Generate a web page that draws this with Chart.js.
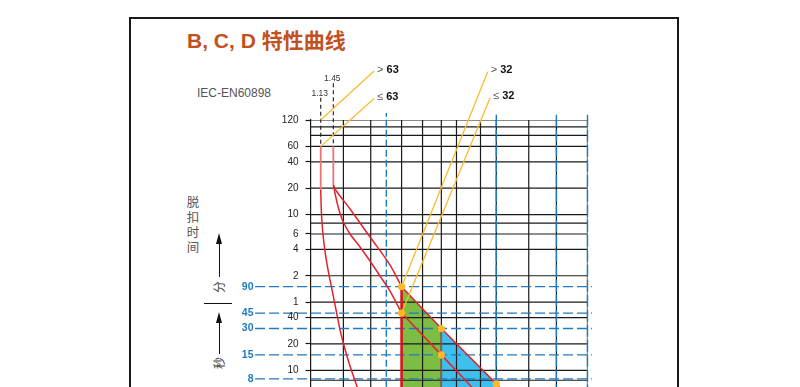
<!DOCTYPE html>
<html lang="zh">
<head>
<meta charset="utf-8">
<title>B, C, D 特性曲线</title>
<script src="https://cdn.jsdelivr.net/npm/chart.js@4.4.1/dist/chart.umd.min.js"></script>
<style>
  html, body { margin: 0; padding: 0; background: #fff; }
  body { width: 800px; height: 387px; overflow: hidden; position: relative;
         font-family: "Liberation Sans", Arial, "Noto Sans CJK SC", sans-serif; }
  .frame { position: absolute; left: 129px; top: 17px; width: 550px; height: 500px;
           border: 2px solid #1a1a1a; box-sizing: border-box; }
  .title { position: absolute; left: 187px; top: 30px; font-size: 21px; line-height: 21px;
           font-weight: bold; color: #c2511f; white-space: nowrap;
           font-family: "Liberation Sans", Arial, "Noto Sans CJK SC", sans-serif; }
  .std { position: absolute; left: 197px; top: 87px; font-size: 12px; line-height: 12px;
         color: #555; white-space: nowrap; }
  .ylab { position: absolute; left: 186px; top: 194px; width: 14px; font-size: 12.5px;
          line-height: 15px; color: #555; text-align: center;
          font-family: "Noto Sans CJK SC", sans-serif; }
  .unit { position: absolute; width: 14px; height: 14px; font-size: 12px; line-height: 14px;
          text-align: center; color: #444; transform: rotate(-90deg);
          font-family: "Noto Sans CJK SC", sans-serif; }
  .shaft { position: absolute; width: 0; border-left: 1px solid #111; }
  .head { position: absolute; width: 0; height: 0; border-left: 3px solid transparent;
          border-right: 3px solid transparent; border-bottom: 11px solid #111; }
  .divider { position: absolute; left: 204px; top: 303px; width: 28px; border-top: 1px solid #111; }
  #chartBox { position: absolute; left: 0; top: 0; width: 800px; height: 387px; }
</style>
</head>
<body>
<div class="frame"></div>
<div class="title">B, C, D 特性曲线</div>
<div class="std">IEC-EN60898</div>
<div class="ylab">脱<br>扣<br>时<br>间</div>

<div class="head" style="left:216px; top:233px;"></div>
<div class="shaft" style="left:219px; top:243px; height:34px;"></div>
<div class="unit" style="left:212px; top:280px;">分</div>
<div class="divider"></div>
<div class="head" style="left:216px; top:312px;"></div>
<div class="shaft" style="left:219px; top:322px; height:32px;"></div>
<div class="unit" style="left:212px; top:356px;">秒</div>

<div id="chartBox"><canvas id="curves"></canvas></div>

<script>
// ────────────────────────────────────────────────
// DATA
// ────────────────────────────────────────────────
// tripping time axis, seconds (log): grid lines and their printed labels
const timeTicks  = [7200, 6000, 4800, 3600, 2400, 1200, 600, 480, 360, 240, 120, 60, 40, 20, 10, 7.7];
const timeLabels = ['120', '', '', '60', '40', '20', '10', '', '6', '4', '2', '1', '40', '20', '10', ''];

// blue test times, seconds
const markTimes  = [90, 45, 30, 15, 8];
const markLabels = ['90', '45', '30', '15', '8'];

// current axis, multiples of In (log): vertical grid lines
const currentGrid = [1.77, 3.04, 5.6, 8.48, 12.3, 16.6, 26.7, 36.5, 69.4, 120, 222];
const currentBlue = [4.14, 36.5, 120, 222];

// red tripping curves
const curve113Top = [{x: 1.13, y: 3600}, {x: 1.13, y: 1144}];
const curve113 = [{x: 1.13, y: 1144}, {x: 1.148, y: 593}, {x: 1.183, y: 350}, {x: 1.243, y: 207},
                  {x: 1.332, y: 122}, {x: 1.413, y: 83}, {x: 1.53, y: 49}, {x: 1.656, y: 29},
                  {x: 1.767, y: 20.5}, {x: 1.979, y: 12.1}, {x: 2.32, y: 6.5}, {x: 2.41, y: 5.5}];
const curve145Top = [{x: 1.45, y: 3600}, {x: 1.45, y: 1304}];
const upperCurve = [{x: 1.45, y: 1304}, {x: 1.561, y: 1085}, {x: 2.019, y: 694}, {x: 2.999, y: 332},
                    {x: 4.457, y: 159}, {x: 5.6, y: 90}];
const lowerCurve = [{x: 1.45, y: 1304}, {x: 1.53, y: 927}, {x: 1.623, y: 676}, {x: 1.767, y: 493},
                    {x: 2.019, y: 360}, {x: 2.46, y: 256}, {x: 2.999, y: 177}, {x: 3.656, y: 119},
                    {x: 4.457, y: 80.4}, {x: 5.6, y: 45}];
const upperTail = [{x: 5.6, y: 90}, {x: 12.3, y: 30}, {x: 36.5, y: 7}, {x: 39.3, y: 6.3}];
const lowerTail = [{x: 5.6, y: 45}, {x: 12.3, y: 15}, {x: 24.5, y: 5.7}];
const edgeRed   = [{x: 5.6, y: 90}, {x: 5.6, y: 5}];
const edgeBrown = [{x: 12.3, y: 30}, {x: 12.3, y: 5}];

// shaded zones (filled down to the bottom of the axis)
const greenZone = [{x: 5.6, y: 90}, {x: 12.3, y: 30}];
const blueZone  = [{x: 12.3, y: 30}, {x: 36.5, y: 7}, {x: 39.3, y: 6.3}];

// yellow test points
const testPoints = [{x: 5.6, y: 90}, {x: 5.6, y: 45}, {x: 12.3, y: 30}, {x: 12.3, y: 15}, {x: 36.5, y: 7}];

// dashed reference currents 1.13 / 1.45
const ref113 = [{x: 1.13, y: 12900}, {x: 1.13, y: 3600}];
const ref145 = [{x: 1.45, y: 18900}, {x: 1.45, y: 3600}];

// yellow leader lines with their labels
const leaders = [
  { sym: '>', num: '63', points: [{x: 1.13, y: 7200}, {x: 3.25, y: 26100}] },
  { sym: '≤', num: '63', points: [{x: 1.13, y: 3600}, {x: 3.25, y: 12700}] },
  { sym: '>', num: '32', points: [{x: 5.6, y: 90}, {x: 30.8, y: 25600}] },
  { sym: '≤', num: '32', points: [{x: 5.6, y: 45}, {x: 32.3, y: 12900}] }
];

const X_MIN = 0.923, X_MAX = 222;
const Y_MIN = 6.45, Y_MAX = 7200;

// ────────────────────────────────────────────────
// COLOURS
// ────────────────────────────────────────────────
const RED = '#e3232b', PINK = '#f07272', BROWN = '#b5473a', GOLD = '#f9bb2e';
const BLUE = '#1f7bc1', GRID = '#1a1a1a';
const FONT = '"Liberation Sans", Arial, sans-serif';

function lineSet(data, color, width, order, extra) {
  return Object.assign({ data, borderColor: color, borderWidth: width, order,
                         pointRadius: 0, pointHoverRadius: 0, fill: false, tension: 0 }, extra || {});
}

// ────────────────────────────────────────────────
// DATASETS (lower order = drawn on top)
// ────────────────────────────────────────────────
const datasets = [];

datasets.push(lineSet(greenZone, 'rgba(0,0,0,0)', 0, 9, { fill: 'start', backgroundColor: '#7dbd44' }));
datasets.push(lineSet(blueZone, 'rgba(0,0,0,0)', 0, 9, { fill: 'start', backgroundColor: '#3fbfee' }));

timeTicks.forEach(t => datasets.push(lineSet([{x: X_MIN, y: t}, {x: X_MAX, y: t}], GRID, 1.2, 6)));
currentGrid.forEach(c => datasets.push(lineSet([{x: c, y: Y_MIN}, {x: c, y: Y_MAX}], GRID, 1.2, 6)));

markTimes.forEach(t => datasets.push(lineSet([{x: 0.308, y: t}, {x: 243, y: t}], BLUE, 1.3, 5,
  { borderDash: [10, 4], clip: false })));
currentBlue.forEach((c, i) => datasets.push(lineSet([{x: c, y: 5}, {x: c, y: 8650}], BLUE, 1.4, 5,
  { borderDash: i === 0 ? [7, 3] : [12, 3], clip: false })));

datasets.push(lineSet(ref113, GRID, 1.1, 4, { borderDash: [4, 3], clip: false }));
datasets.push(lineSet(ref145, GRID, 1.1, 4, { borderDash: [4, 3], clip: false }));

datasets.push(lineSet(edgeBrown, BROWN, 1.5, 3));
datasets.push(lineSet(curve113Top, PINK, 1.8, 3));
datasets.push(lineSet(curve145Top, PINK, 1.8, 3));
datasets.push(lineSet(curve113, RED, 1.5, 3, { tension: 0.3 }));
datasets.push(lineSet(upperCurve, RED, 1.5, 3, { tension: 0.3 }));
datasets.push(lineSet(lowerCurve, RED, 1.5, 3, { tension: 0.3 }));
datasets.push(lineSet(upperTail, RED, 1.5, 3));
datasets.push(lineSet(lowerTail, RED, 1.5, 3));
datasets.push(lineSet(edgeRed, '#d9161c', 2.6, 2));

leaders.forEach(l => datasets.push(lineSet(l.points, GOLD, 1.3, 1, { clip: false })));

datasets.push({ data: testPoints, showLine: false, order: 0, pointRadius: 3.6, pointHoverRadius: 3.6,
                pointBackgroundColor: '#fbb829', pointBorderWidth: 0 });

// ────────────────────────────────────────────────
// TEXT ON THE CHART
// ────────────────────────────────────────────────
// time labels (black) and test-time labels (blue), placed with the y scale
const axisLabels = {
  id: 'axisLabels',
  afterDraw(chart) {
    const { ctx, chartArea, scales: { y } } = chart;
    ctx.save();
    ctx.textAlign = 'right';
    ctx.textBaseline = 'middle';
    ctx.font = '10px ' + FONT;
    ctx.fillStyle = '#222';
    timeTicks.forEach((t, i) => {
      if (timeLabels[i]) ctx.fillText(timeLabels[i], chartArea.left - 12, y.getPixelForValue(t));
    });
    ctx.font = 'bold 10.5px ' + FONT;
    ctx.fillStyle = BLUE;
    markTimes.forEach((t, i) => ctx.fillText(markLabels[i], chartArea.left - 57, y.getPixelForValue(t)));
    ctx.restore();
  }
};

// 1.13 / 1.45 and the "> 63", "≤ 32" ... notes
const annotationText = {
  id: 'annotationText',
  afterDatasetsDraw(chart) {
    const { ctx, scales: { x, y } } = chart;
    ctx.save();
    ctx.font = '8.5px ' + FONT;
    ctx.fillStyle = '#333';
    ctx.textAlign = 'center';
    ctx.textBaseline = 'alphabetic';
    [[ref113, '1.13'], [ref145, '1.45']].forEach(([ref, txt]) => {
      ctx.fillText(txt, x.getPixelForValue(ref[0].x) - 1, y.getPixelForValue(ref[0].y) - 2);
    });

    ctx.textAlign = 'left';
    ctx.textBaseline = 'middle';
    leaders.forEach(l => {
      const end = l.points[l.points.length - 1];
      const px = x.getPixelForValue(end.x) + 3;
      const py = y.getPixelForValue(end.y) - 1.5;
      ctx.font = '11px ' + FONT;
      ctx.fillStyle = '#555';
      ctx.fillText(l.sym, px, py);
      const w = ctx.measureText(l.sym + ' ').width;
      ctx.font = 'bold 11px ' + FONT;
      ctx.fillStyle = '#111';
      ctx.fillText(l.num, px + w, py);
    });
    ctx.restore();
  }
};

// ────────────────────────────────────────────────
// CHART
// ────────────────────────────────────────────────
Chart.defaults.font.family = FONT;

new Chart(document.getElementById('curves'), {
  type: 'line',
  data: { datasets },
  plugins: [annotationText, axisLabels],
  options: {
    responsive: true,
    maintainAspectRatio: false,
    animation: false,
    events: [],
    layout: { autoPadding: false, padding: { left: 250.5, right: 212.5, top: 120, bottom: 0 } },
    plugins: { legend: { display: false }, tooltip: { enabled: false } },
    scales: {
      x: { type: 'logarithmic', display: false, min: X_MIN, max: X_MAX },
      y: {
        type: 'logarithmic', position: 'left', min: Y_MIN, max: Y_MAX,
        afterBuildTicks: s => { s.ticks = timeTicks.map(v => ({ value: v })); },
        afterFit: s => { s.width = 60; },
        grid: {
          drawOnChartArea: false, tickLength: 5, tickWidth: 1.2,
          tickColor: c => (c.tick && timeLabels[timeTicks.indexOf(c.tick.value)]) ? GRID : 'rgba(0,0,0,0)'
        },
        border: { display: true, color: GRID, width: 1.2 },
        ticks: { display: false }
      }
    }
  }
});
</script>
</body>
</html>
